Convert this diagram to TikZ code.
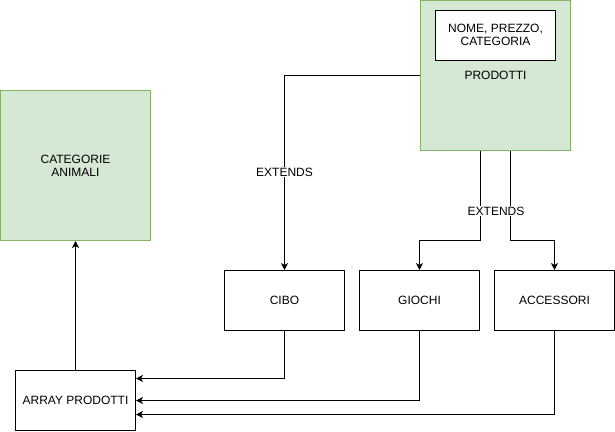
\documentclass[tikz,border=0pt]{standalone}
\usepackage{fontspec}
\setmainfont{Liberation Sans}
\usetikzlibrary{arrows.meta}
\definecolor{gfill}{HTML}{D5E8D4}
\definecolor{gdraw}{HTML}{82B366}
\begin{document}
\begin{tikzpicture}[x=1pt,y=-1pt,
  every node/.style={font=\fontsize{12}{14}\selectfont, text=black},
  greenbox/.style={draw=gdraw, fill=gfill, line width=1pt, minimum width=150pt, minimum height=150pt, inner sep=0pt, align=center},
  whitebox/.style={draw=black, fill=white, line width=1pt, minimum width=120pt, minimum height=60pt, inner sep=0pt, align=center},
  conn/.style={draw=black, line width=1pt, -{Stealth[length=7pt,width=7pt,inset=2pt]}},
  lbl/.style={fill=white, inner sep=1pt}]
\useasboundingbox (0,0) rectangle (615,431);
% nodes
\node[greenbox] (prod) at (495.5,75.5) {};
\node[whitebox, minimum height=50pt] (attr) at (495.5,35) {NOME, PREZZO,\\[-1pt]CATEGORIA};
\node (prodlbl) at (495.5,75) {PRODOTTI};
\node[greenbox] (cat) at (75.5,165.5) {CATEGORIE\\[-1pt]ANIMALI};
\node[whitebox] (cibo) at (284.5,300.5) {CIBO};
\node[whitebox] (giochi) at (419.5,300.5) {GIOCHI};
\node[whitebox] (acc) at (554.5,300.5) {ACCESSORI};
\node[whitebox] (arr) at (75.5,400.5) {ARRAY PRODOTTI};
% connectors
\coordinate (p1) at (480.5,240.5);
\coordinate (p2) at (510.5,240.5);
\draw[conn] (prod.west) -| (cibo.north) node[lbl, pos=0.748] (ext1) {EXTENDS};
\draw[conn] (prod.south -| p1) -- (p1) -| (giochi.north);
\draw[conn] (prod.south -| p2) -- (p2) -| (acc.north);
\node[lbl] (ext2) at (496,211) {EXTENDS};
\draw[conn] (arr.north) -- (cat.south);
\draw[conn] (cibo.south) |- ([yshift=22pt]arr.east);
\draw[conn] (giochi.south) |- (arr.east);
\draw[conn] (acc.south) |- ([yshift=-14pt]arr.east);
\end{tikzpicture}
\end{document}
